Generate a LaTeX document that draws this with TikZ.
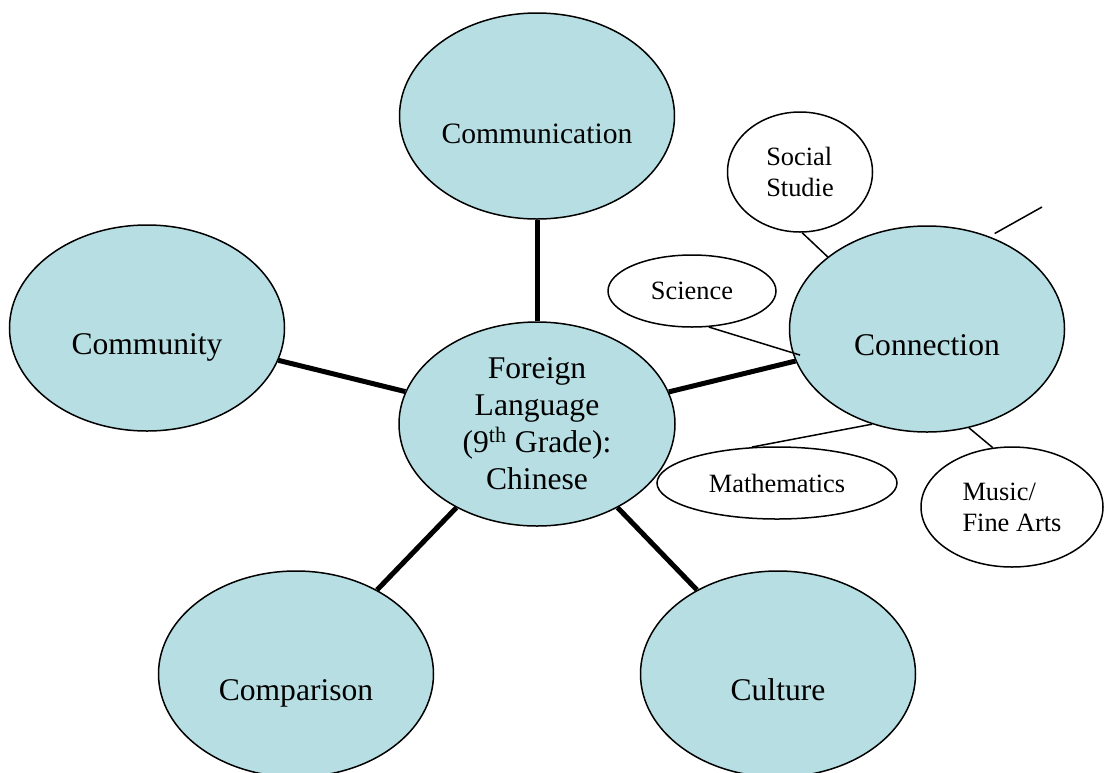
\documentclass[tikz,border=0pt]{standalone}
\usepackage{fontspec}
\setmainfont{Liberation Serif}
\usetikzlibrary{shapes.geometric}
\definecolor{bubblefill}{RGB}{183,223,227}

\begin{document}
\begin{tikzpicture}[x=0.5pt,y=-0.5pt,
	bubble/.style={ellipse, draw, line width=0.75pt, fill=bubblefill, inner sep=0pt,
		minimum width=137.5pt, minimum height=103pt,
		font=\fontsize{15.8}{18.5}\selectfont, text height=29.6pt, text depth=3pt},
	hub/.style={ellipse, draw, line width=0.75pt, fill=bubblefill, inner sep=0pt,
		minimum width=138pt, minimum height=102pt, align=center,
		font=\fontsize{15.8}{18.5}\selectfont},
	topic/.style={ellipse, draw, line width=0.75pt, fill=white, inner sep=0pt,
		font=\fontsize{13.2}{15.5}\selectfont},
	spoke/.style={line width=2.5pt},
	twig/.style={line width=0.75pt}]
			\useasboundingbox (0,0) rectangle (1104,772);

			% Center
			\node[hub] (hub) at (537,424) {Foreign\\Language\\(9\textsuperscript{th} Grade):\\Chinese};

			% Five C's
			\node[bubble, font=\fontsize{14.8}{18.5}\selectfont, text height=30.6pt] (comm) at (537,116) {Communication};
			\node[bubble] (cmty) at (147,328) {Community};
			\node[bubble] (conn) at (927,329) {Connection};
			\node[bubble] (cmp) at (296,674) {Comparison};
			\node[bubble] (cult) at (778,674) {Culture};

			% Subjects around Connection
			\node[topic, minimum width=72.5pt, minimum height=60pt, align=left] (soc) at (800,172) {Social\\Studie};
			\node[topic, minimum width=84pt, minimum height=36pt] (sci) at (692,291) {Science};
			\node[topic, minimum width=120pt, minimum height=36pt] (math) at (777,483) {Mathematics};
			\node[topic, minimum width=91pt, minimum height=60pt, align=left] (music) at (1012,507) {Music/\\Fine Arts};
			\coordinate (stub) at (1042,207);

			% Spokes
			\draw[spoke] (hub) -- (comm);
			\draw[spoke] (hub) -- (cmty);
			\draw[spoke] (hub) -- (conn);
			\draw[spoke] (hub) -- (cmp);
			\draw[spoke] (hub) -- (cult);

			% Twigs
			\draw[twig] (soc.-88) -- (conn.144);
			\draw[twig, shorten >=-4pt] (sci.-65) -- (conn.190);
			\draw[twig] (math.125) -- (conn.240);
			\draw[twig] (conn.-67) -- (music.108);
			\draw[twig, shorten <=3pt] (conn.56) -- (stub);
\end{tikzpicture}
\end{document}
